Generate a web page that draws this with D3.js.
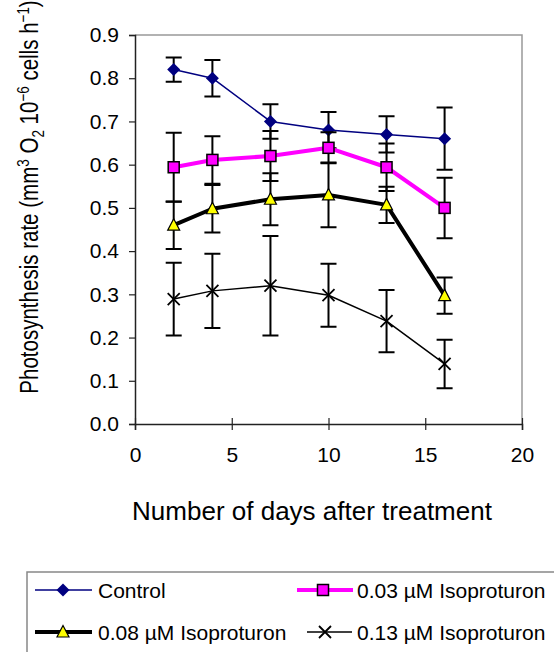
<!DOCTYPE html>
<html lang="en">
<head>
  <meta charset="UTF-8">
  <title>Photosynthesis rate</title>
  <style>
    body { margin: 0; background: #fff; }
    text { font-family: "Liberation Sans", Arial, sans-serif; fill: #000; }
  </style>
</head>
<body>
  <svg id="chart" width="554" height="652"></svg>

  <script src="https://d3js.org/d3.v7.min.js"></script>
  <script>
    // values
    var days = [2, 4, 7, 10, 13, 16];
    var control = [0.82, 0.80, 0.70, 0.68, 0.67, 0.66];
    var controlErr = [0.028, 0.042, 0.040, 0.042, 0.042, 0.072];
    var iso003 = [0.594, 0.611, 0.620, 0.639, 0.594, 0.500];
    var iso003Err = [0.080, 0.055, 0.058, 0.036, 0.055, 0.070];
    var iso008 = [0.460, 0.498, 0.520, 0.530, 0.507, 0.297];
    var iso008Err = [0.055, 0.055, 0.060, 0.075, 0.042, 0.042];
    var iso013 = [0.289, 0.308, 0.320, 0.298, 0.238, 0.139];
    var iso013Err = [0.084, 0.086, 0.115, 0.073, 0.072, 0.056];
    var xTicks = [0, 5, 10, 15, 20];
    var yTicks = [0, 0.1, 0.2, 0.3, 0.4, 0.5, 0.6, 0.7, 0.8, 0.9];

    var series = [
      { name: "Control", values: control, err: controlErr, color: "#000080", width: 1.5, marker: "diamond" },
      { name: "0.03 \u00b5M Isoproturon", values: iso003, err: iso003Err, color: "#ff00ff", width: 4, marker: "square" },
      { name: "0.08 \u00b5M Isoproturon", values: iso008, err: iso008Err, color: "#000", width: 4, marker: "triangle" },
      { name: "0.13 \u00b5M Isoproturon", values: iso013, err: iso013Err, color: "#000", width: 1.5, marker: "cross" }
    ];

    var svg = d3.select("#chart"),
      plotL = 135, plotR = 522, plotT = 35, plotB = 424;

    var x = d3.scaleLinear().domain([0, 20]).range([plotL, plotR]);
    var y = d3.scaleLinear().domain([0, 0.9]).range([plotB, plotT]);

    // frame: top and right in grey
    svg.append("path")
      .attr("d", "M" + plotL + "," + plotT + "H" + plotR + "V" + plotB)
      .attr("fill", "none").attr("stroke", "#999").attr("stroke-width", 1.5);

    var yAxis = svg.append("g")
      .attr("transform", "translate(" + plotL + ",0)")
      .call(d3.axisLeft(y).tickValues(yTicks).tickSize(6).tickPadding(10).tickFormat(d3.format(".1f")));
    var xAxis = svg.append("g")
      .attr("transform", "translate(0," + plotB + ")")
      .call(d3.axisBottom(x).tickValues(xTicks).tickSize(6).tickPadding(17).tickFormat(d3.format("d")));

    [xAxis, yAxis].forEach(function(a) {
      a.select(".domain").attr("stroke", "#222").attr("stroke-width", 1.5);
      a.selectAll(".tick line").attr("stroke", "#222").attr("stroke-width", 1.2);
      a.selectAll(".tick text").style("font-size", "21px").attr("fill", "#000");
    });
    xAxis.selectAll(".tick line").attr("y1", -6);

    svg.append("text")
      .attr("x", 312).attr("y", 520)
      .attr("text-anchor", "middle")
      .style("font-size", "26px")
      .text("Number of days after treatment");

    // y title, squeezed along its length to fit like the reference
    var yt = svg.append("text")
      .attr("transform", "translate(38,197) rotate(-90) scale(0.79,1)")
      .attr("text-anchor", "middle")
      .style("font-size", "26px");
    yt.append("tspan").text("Photosynthesis rate (mm");
    yt.append("tspan").attr("dy", -9).style("font-size", "17px").text("3");
    yt.append("tspan").attr("dy", 9).text(" O");
    yt.append("tspan").attr("dy", 6).style("font-size", "17px").text("2");
    yt.append("tspan").attr("dy", -6).text(" 10");
    yt.append("tspan").attr("dy", -9).style("font-size", "17px").text("\u22126");
    yt.append("tspan").attr("dy", 9).text(" cells h");
    yt.append("tspan").attr("dy", -9).style("font-size", "17px").text("\u22121");
    yt.append("tspan").attr("dy", 9).text(")");

    function drawMarker(g, type, cx, cy, color) {
      if (type === "diamond") {
        g.append("path").attr("d", "M" + cx + "," + (cy - 6.5) + "L" + (cx + 6.5) + "," + cy +
          "L" + cx + "," + (cy + 6.5) + "L" + (cx - 6.5) + "," + cy + "Z").attr("fill", color);
      } else if (type === "square") {
        g.append("rect").attr("x", cx - 5.5).attr("y", cy - 5.5).attr("width", 11).attr("height", 11)
          .attr("fill", color).attr("stroke", "#000").attr("stroke-width", 1.5);
      } else if (type === "triangle") {
        g.append("path").attr("d", "M" + cx + "," + (cy - 6.5) + "L" + (cx + 6) + "," + (cy + 5) +
          "L" + (cx - 6) + "," + (cy + 5) + "Z").attr("fill", "#ffff00").attr("stroke", "#000").attr("stroke-width", 1.2);
      } else {
        g.append("path").attr("d", "M" + (cx - 6) + "," + (cy - 6) + "L" + (cx + 6) + "," + (cy + 6) +
          "M" + (cx + 6) + "," + (cy - 6) + "L" + (cx - 6) + "," + (cy + 6))
          .attr("stroke", color).attr("stroke-width", 1.8).attr("fill", "none");
      }
    }

    var line = d3.line().x(function(d) { return x(d[0]); }).y(function(d) { return y(d[1]); });

    series.forEach(function(s) {
      var g = svg.append("g");
      var pts = days.map(function(d, i) { return [d, s.values[i], s.err[i]]; });

      pts.forEach(function(p) {
        var cx = x(p[0]), y0 = y(p[1] - p[2]), y1 = y(p[1] + p[2]);
        g.append("path")
          .attr("d", "M" + cx + "," + y0 + "V" + y1 + "M" + (cx - 8) + "," + y0 + "H" + (cx + 8) +
            "M" + (cx - 8) + "," + y1 + "H" + (cx + 8))
          .attr("stroke", "#000").attr("stroke-width", 2).attr("fill", "none");
      });

      g.append("path").datum(pts).attr("d", line)
        .attr("fill", "none").attr("stroke", s.color).attr("stroke-width", s.width)
        .attr("stroke-linejoin", "round");

      pts.forEach(function(p) { drawMarker(g, s.marker, x(p[0]), y(p[1]), s.color); });
    });

    // legend (box runs off the bottom and right edge, as in the reference)
    svg.append("rect").attr("x", 27).attr("y", 572).attr("width", 540).attr("height", 100)
      .attr("fill", "none").attr("stroke", "#888").attr("stroke-width", 1.5);

    var legendPos = [
      { lx0: 35, lx1: 92, mx: 63, tx: 98, cy: 590 },
      { lx0: 297, lx1: 353, mx: 323, tx: 357, cy: 590 },
      { lx0: 35, lx1: 92, mx: 63, tx: 98, cy: 632 },
      { lx0: 307, lx1: 352, mx: 325, tx: 357, cy: 632 }
    ];

    series.forEach(function(s, i) {
      var p = legendPos[i], g = svg.append("g");
      g.append("line").attr("x1", p.lx0).attr("x2", p.lx1).attr("y1", p.cy).attr("y2", p.cy)
        .attr("stroke", s.color).attr("stroke-width", s.width);
      drawMarker(g, s.marker, p.mx, p.cy, s.color);
      g.append("text").attr("x", p.tx).attr("y", p.cy + 7.5).style("font-size", "21px").text(s.name);
    });
  </script>
</body>
</html>
